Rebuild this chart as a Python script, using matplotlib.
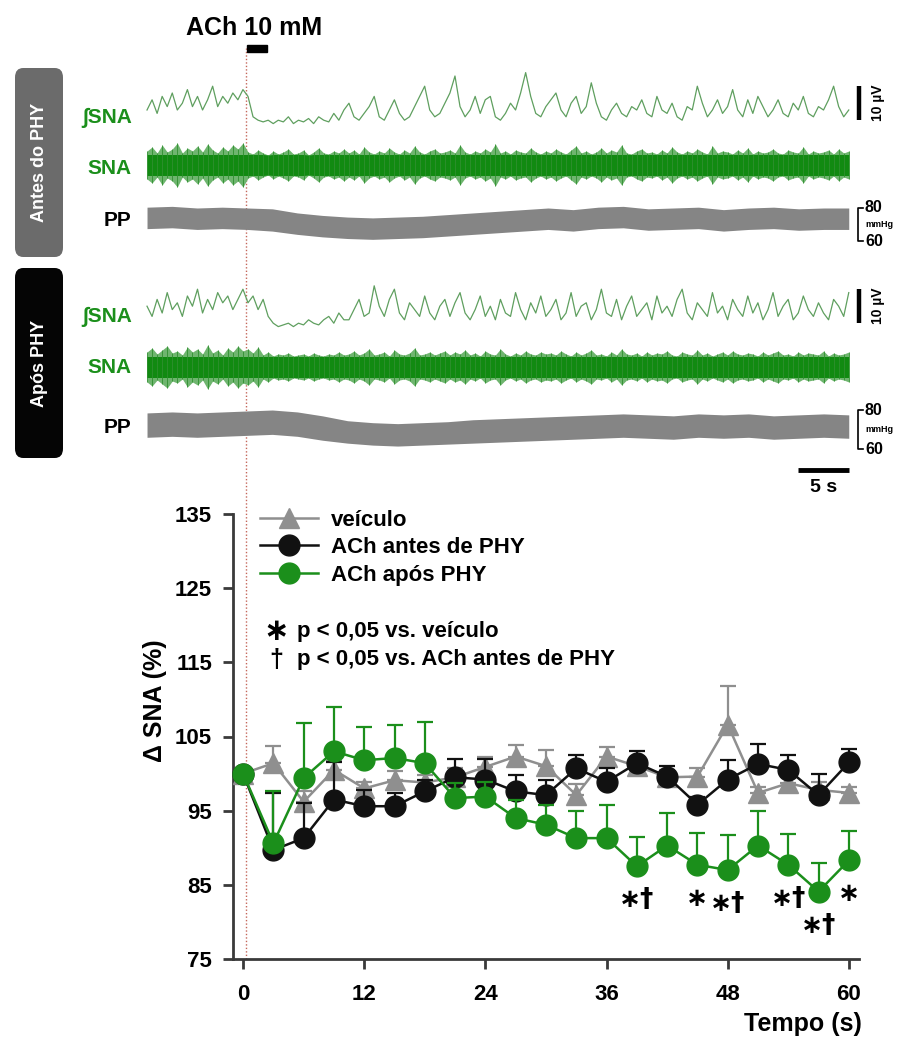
import numpy as np
import matplotlib.pyplot as plt
from matplotlib.patches import FancyBboxPatch, Rectangle
from matplotlib.lines import Line2D

plt.rcParams['font.family'] = ['Liberation Sans', 'DejaVu Sans']
plt.rcParams['font.weight'] = 'bold'
plt.rcParams['axes.labelweight'] = 'bold'

# ---------------- dados do gráfico: delta SNA (%) ----------------
tempo = [0, 3, 6, 9, 12, 15, 18, 21, 24, 27, 30, 33, 36, 39, 42, 45, 48, 51, 54, 57, 60]
veiculo = [100, 101.4, 96.2, 100.5, 98.0, 99.1, 98.8, 99.5, 100.9, 102.3, 101.0,
           97.1, 102.3, 101.0, 99.5, 99.6, 106.6, 97.4, 98.7, 97.8, 97.4]
veiculo_ep = [0, 2.3, 1.5, 1.2, 0.9, 1.2, 1.0, 1.2, 1.3, 1.5, 2.2,
              1.5, 1.3, 1.2, 1.0, 1.1, 5.2, 0.8, 1.0, 1.0, 0.8]
antes = [100, 89.7, 91.3, 96.5, 95.6, 95.6, 97.6, 99.5, 99.2, 97.6, 97.1,
         100.7, 98.9, 101.4, 99.6, 95.8, 99.2, 101.3, 100.5, 97.1, 101.5]
antes_ep = [0, 7.7, 4.7, 5.0, 2.2, 1.8, 1.5, 2.5, 2.8, 2.2, 2.0,
            1.8, 1.8, 1.6, 1.4, 1.0, 2.6, 2.7, 2.0, 2.9, 1.8]
apos = [100, 90.6, 99.4, 103.0, 101.8, 102.1, 101.4, 96.7, 96.9, 94.0, 93.1,
        91.3, 91.3, 87.5, 90.3, 87.7, 87.0, 90.3, 87.7, 84.1, 88.3]
apos_ep = [0, 7.0, 7.4, 6.0, 4.5, 4.5, 5.5, 2.0, 2.0, 2.5, 2.7,
           3.6, 4.5, 4.0, 4.4, 4.3, 4.7, 4.7, 4.2, 3.9, 4.0]

# significancia (ACh após PHY)
sig_t = [39, 45, 48, 54, 57, 60]
sig_txt = ['∗†', '∗', '∗†', '∗†', '∗†', '∗']

# ---------------- registros (traçados) ----------------
# amostras a cada 0,5 s de -9,5 a 60 s
t_reg = np.linspace(-9.5, 60, 140)
# SNA integrada (µV acima da linha de base)
int_antes = [5, 8, 4, 9, 6, 10, 5, 7, 11, 6, 9, 5, 8, 12, 6, 9, 7, 10, 8, 11,
             9, 3, 2, 1.5, 2, 1, 2, 1.5, 3, 1, 2, 1.5, 2.5, 1, 3, 2, 1.5, 4, 2, 5,
             7, 3, 2, 4, 6, 9, 3, 2, 5, 8, 4, 2, 3, 6, 9, 12, 5, 3, 4, 7,
             10, 15, 6, 3, 5, 9, 4, 8, 9, 3, 2, 4, 7, 5, 10, 16, 9, 4, 3, 6,
             8, 10, 5, 3, 7, 9, 4, 6, 13, 7, 3, 2, 5, 7, 4, 3, 6, 5, 8, 4,
             3, 9, 5, 4, 7, 3, 2, 6, 5, 12, 7, 3, 5, 8, 4, 6, 11, 5, 3, 8,
             4, 9, 6, 3, 5, 8, 4, 3, 7, 5, 9, 4, 3, 6, 5, 8, 12, 6, 3, 5]
int_apos = [7, 4, 9, 5, 11, 6, 8, 4, 10, 7, 12, 5, 9, 6, 11, 8, 10, 6, 9, 12,
            8, 10, 6, 9, 4, 2, 1, 1.5, 2, 1, 2, 1.5, 3, 2, 1.5, 3, 4, 2, 5, 3,
            3, 6, 9, 4, 5, 13, 7, 4, 9, 12, 5, 3, 8, 6, 4, 10, 5, 3, 7, 9,
            4, 8, 11, 5, 3, 6, 10, 4, 7, 3, 9, 5, 4, 11, 6, 3, 8, 5, 10, 4,
            6, 9, 3, 5, 11, 4, 7, 8, 3, 6, 12, 5, 4, 9, 3, 7, 10, 4, 6, 8,
            3, 10, 5, 7, 4, 9, 12, 5, 3, 8, 6, 4, 11, 5, 7, 3, 9, 6, 4, 10,
            5, 8, 3, 6, 11, 4, 7, 9, 3, 5, 10, 6, 4, 8, 5, 3, 9, 7, 4, 11]
# SNA bruta: amplitude do envelope (u.a.)
sna_antes = [14, 18, 12, 20, 13, 16, 22, 12, 17, 14, 19, 13, 21, 15, 12, 18, 14, 20, 16, 22,
             13, 11, 15, 12, 10, 14, 11, 13, 16, 11, 12, 15, 10, 13, 17, 12, 11, 14, 12, 16,
             12, 15, 11, 18, 13, 11, 14, 12, 17, 13, 11, 15, 12, 19, 13, 11, 14, 16, 12, 13,
             15, 12, 20, 13, 11, 14, 12, 16, 13, 21, 12, 14, 11, 15, 13, 12, 17, 13, 11, 14,
             12, 16, 13, 11, 15, 19, 12, 14, 11, 13, 17, 12, 15, 13, 20, 12, 11, 14, 16, 12,
             13, 11, 15, 12, 18, 13, 11, 14, 12, 16, 13, 11, 19, 12, 14, 13, 11, 15, 12, 17,
             11, 14, 12, 13, 16, 12, 11, 15, 13, 12, 18, 11, 14, 12, 13, 15, 11, 16, 12, 14]
sna_apos = [15, 19, 13, 17, 21, 14, 16, 12, 20, 15, 18, 13, 22, 14, 17, 12, 19, 15, 21, 16,
            18, 14, 20, 12, 15, 11, 13, 12, 14, 11, 12, 13, 11, 14, 12, 11, 13, 12, 15, 12,
            13, 16, 12, 14, 18, 12, 13, 15, 11, 17, 13, 12, 14, 19, 12, 13, 15, 12, 14, 16,
            12, 15, 13, 17, 12, 14, 11, 16, 13, 12, 18, 13, 11, 14, 12, 16, 13, 12, 15, 13,
            14, 12, 16, 13, 11, 15, 12, 14, 17, 12, 13, 11, 15, 12, 18, 13, 12, 14, 11, 15,
            12, 14, 13, 16, 12, 11, 15, 13, 12, 17, 12, 14, 11, 13, 15, 12, 16, 13, 12, 14,
            13, 11, 15, 12, 14, 16, 12, 13, 11, 15, 12, 14, 13, 12, 16, 11, 14, 12, 13, 15]
# pressão de pulso (mmHg), sistólica / diastólica
t_pp = np.linspace(-9.5, 60, 29)
pp_antes_sis = [80.5, 81, 80, 80.5, 80, 79.5, 77, 75.5, 74.5, 74, 74.5, 75, 76, 77, 78,
                79, 80, 79, 80.5, 81, 79.5, 80, 80.5, 79, 80, 80.5, 79.5, 80, 80]
pp_antes_dia = [67.5, 68, 67, 67.5, 67, 66, 64, 62.5, 61.5, 61, 61.5, 62, 63, 64, 65,
                66, 67, 66, 67.5, 68, 66.5, 67, 67.5, 66, 67, 67.5, 66.5, 67, 67]
pp_apos_sis = [78.5, 79, 78.5, 79, 79.5, 80, 79, 77, 74.5, 73.5, 73, 73.5, 74, 75, 75.5,
               76, 76.5, 77, 77.5, 78, 77.5, 77, 78, 77.5, 78, 77, 77.5, 78, 77.5]
pp_apos_dia = [66, 66.5, 66, 66.5, 67, 67.5, 66.5, 64.5, 63, 62, 61.5, 62, 62.5, 63, 63.5,
               64, 64.5, 65, 65.5, 66, 65.5, 65, 66, 65.5, 66, 65, 65.5, 66, 65.5]

ach_ini, ach_fim = 0.4, 2.4

verde = '#1b8f1b'
verde_claro = '#5f9f5f'
cinza = '#8f8f8f'
preto = '#111111'

W, H = 910, 1043
def caixa(x0, y0, x1, y1):
    return [x0 / W, 1 - y1 / H, (x1 - x0) / W, (y1 - y0) / H]

fig = plt.figure(figsize=(9.1, 10.43), dpi=100)
ax = fig.add_axes(caixa(233, 514, 859, 959))
axT = fig.add_axes(caixa(145, 15, 910, 480))
ax.set_facecolor('none')
axT.set_facecolor('none')
axT.set_xlim(-9.7, -9.7 + 765 / 10.097)
axT.set_ylim(0, 465)
axT.axis('off')

# ---------------- traçados ----------------
linhas = [
    # (sna integrada, sna bruta, pp sis, pp dia, base int, centro sna, base pp, escala pp)
    (int_antes, sna_antes, pp_antes_sis, pp_antes_dia, 353, 315, 239, 1.65),
    (int_apos, sna_apos, pp_apos_sis, pp_apos_dia, 150, 113, 31, 1.95),
]
esc_uv = 3.4
for integ, bruta, sis, dia, b_int, c_sna, b_pp, esc_pp in linhas:
    integ = np.array(integ)
    bruta = np.array(bruta)
    axT.plot(t_reg, b_int + esc_uv * integ, color=verde_claro, lw=0.9)
    axT.fill_between(t_reg, c_sna - bruta, c_sna + bruta, color='#6fb56f', lw=0)
    axT.vlines(t_reg, c_sna - bruta, c_sna + bruta, color='#2f8f2f', lw=0.6)
    nucleo = np.minimum(bruta, 10.5)
    axT.fill_between(t_reg, c_sna - nucleo, c_sna + nucleo, color='#118a11', lw=0)
    axT.fill_between(t_pp, b_pp + (np.array(dia) - 60) * esc_pp,
                     b_pp + (np.array(sis) - 60) * esc_pp, color='#858585', lw=0)
    # barra 10 µV
    axT.plot([61.0, 61.0], [b_int + 2 * esc_uv, b_int + 12 * esc_uv], color='black', lw=3.2,
             solid_capstyle='butt', clip_on=False)
    axT.text(62.9, b_int + 7 * esc_uv, '10 µV', rotation=90, ha='center', va='center',
             fontsize=10, clip_on=False)
    # escala mmHg
    y60, y80 = b_pp, b_pp + 20 * esc_pp
    axT.plot([61.4, 60.9, 60.9, 61.4], [y80, y80, y60, y60], color='black', lw=1.2, clip_on=False)
    axT.text(61.6, y80, '80', ha='left', va='center', fontsize=11.5, clip_on=False)
    axT.text(61.6, y60, '60', ha='left', va='center', fontsize=11.5, clip_on=False)
    axT.text(61.6, (y60 + y80) / 2, 'mmHg', ha='left', va='center', fontsize=6.5, clip_on=False)

# rótulos das linhas
for u_int, u_sna, u_pp in [(362, 312, 260), (163, 113, 53)]:
    axT.text(-11.0, u_int, '∫SNA', ha='right', va='center', color=verde, fontsize=15, clip_on=False)
    axT.text(-11.0, u_sna, 'SNA', ha='right', va='center', color=verde, fontsize=15, clip_on=False)
    axT.text(-11.0, u_pp, 'PP', ha='right', va='center', color='black', fontsize=15, clip_on=False)

# caixas laterais
for (y0, y1), cor, txt in [((68, 257), '#6b6b6b', 'Antes do PHY'), ((268, 458), '#050505', 'Após PHY')]:
    fig.add_artist(FancyBboxPatch((15 / W, 1 - y1 / H), 48 / W, (y1 - y0) / H,
                                  boxstyle='round,pad=0,rounding_size=0.009',
                                  transform=fig.transFigure, facecolor=cor, edgecolor='none'))
    fig.text(39 / W, 1 - (y0 + y1) / 2 / H, txt, rotation=90, color='white', ha='center',
             va='center', fontsize=13)

# ACh
axT.add_patch(Rectangle((ach_ini, 428), ach_fim - ach_ini, 7, color='black', clip_on=False))
axT.text(1.1, 452, 'ACh 10 mM', ha='center', va='center', fontsize=18, clip_on=False)

# barra 5 s
axT.plot([55.0, 60.0], [10, 10], color='black', lw=3.5, solid_capstyle='butt', clip_on=False)
axT.text(57.5, -7, '5 s', ha='center', va='center', fontsize=14, clip_on=False)

# ---------------- gráfico ----------------
series = [
    (veiculo, veiculo_ep, cinza, '^', 14, 'veículo', 2),
    (antes, antes_ep, preto, 'o', 15, 'ACh antes de PHY', 4),
    (apos, apos_ep, verde, 'o', 15, 'ACh após PHY', 6),
]
handles = []
for val, ep, cor, mk, ms, nome, z in series:
    ax.errorbar(tempo, val, yerr=[[0] * len(ep), ep], fmt='none', ecolor=cor,
                elinewidth=1.6, capsize=5.5, capthick=1.6, zorder=z)
    h, = ax.plot(tempo, val, color=cor, lw=1.8, marker=mk, ms=ms, mec=cor, mfc=cor,
                 label=nome, zorder=z + 1, clip_on=False)
    handles.append(h)

for t, txt in zip(sig_t, sig_txt):
    g = apos[tempo.index(t)]
    ax.text(t, g - 4.6, txt, ha='center', va='center', fontsize=19,
            family='DejaVu Sans', fontweight='bold', zorder=10)

ax.set_xlim(-1, 61)
ax.set_ylim(75, 135)
ax.set_xticks([0, 12, 24, 36, 48, 60])
ax.set_yticks(range(75, 136, 10))
for s in ['top', 'right']:
    ax.spines[s].set_visible(False)
for s in ['left', 'bottom']:
    ax.spines[s].set_linewidth(2)
    ax.spines[s].set_color('#3a3a3a')
ax.tick_params(axis='both', direction='out', length=7, width=2, color='#3a3a3a', labelsize=16)
ax.tick_params(axis='x', pad=11)
ax.tick_params(axis='y', pad=8)

ax.set_ylabel('Δ SNA (%)', fontsize=18)
ax.yaxis.set_label_coords(-0.105, 0.58)
ax.set_xlabel('Tempo (s)', fontsize=18, ha='right')
ax.xaxis.set_label_coords(1.005, -0.118)

ax.legend(handles=handles, loc='upper left', bbox_to_anchor=(0.043, 1.01), frameon=False,
          fontsize=16, handlelength=2.6, handletextpad=0.6, labelspacing=0.3,
          borderpad=0, borderaxespad=0)

ax.text(0.069, 0.737, '∗', transform=ax.transAxes, family='DejaVu Sans', fontweight='bold',
        fontsize=22, ha='center', va='center')
ax.text(0.102, 0.737, 'p < 0,05 vs. veículo', transform=ax.transAxes, fontsize=16, va='center')
ax.text(0.069, 0.672, '†', transform=ax.transAxes, fontsize=18, ha='center', va='center')
ax.text(0.102, 0.672, 'p < 0,05 vs. ACh antes de PHY', transform=ax.transAxes, fontsize=16,
        va='center')

# linha pontilhada do início da ACh
inv = fig.transFigure.inverted()
xf, yf_top = inv.transform(axT.transData.transform((0.3, 432)))
_, yf_bot = inv.transform(ax.transData.transform((0.3, 75)))
fig.add_artist(Line2D([xf, xf], [yf_bot, yf_top], transform=fig.transFigure, color='#c4665a',
                      lw=1, ls=(0, (1, 1.5)), zorder=-1))

fig.savefig('out.png', dpi=100)
